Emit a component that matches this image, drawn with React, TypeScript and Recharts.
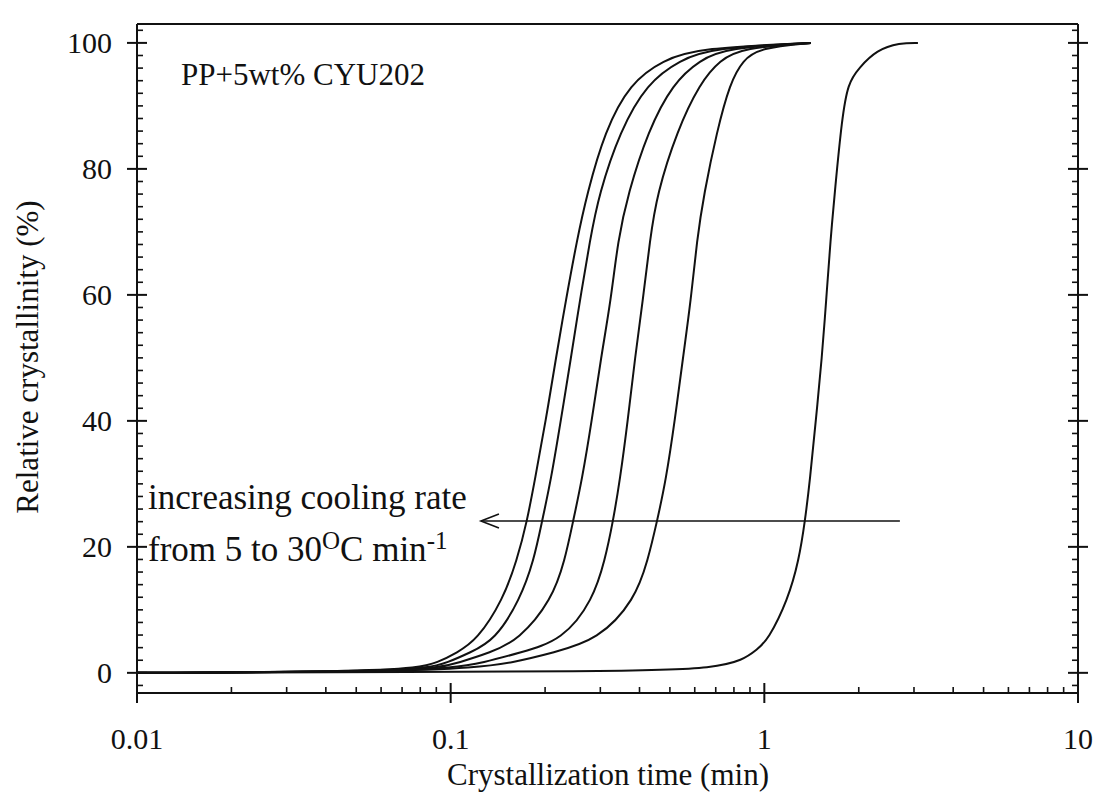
import { LineChart, Line, XAxis, YAxis, ReferenceLine } from 'recharts'

// axis ticks
const X_MAJOR = [0.01, 0.1, 1, 10]
const X_MAJOR_LABELS = ['0.01', '0.1', '1', '10']
const X_MINOR = [
  0.02, 0.03, 0.04, 0.05, 0.06, 0.07, 0.08, 0.09,
  0.2, 0.3, 0.4, 0.5, 0.6, 0.7, 0.8, 0.9,
  2, 3, 4, 5, 6, 7, 8, 9,
]
const Y_MAJOR = [0, 20, 40, 60, 80, 100]
const Y_MINOR = [
  -2, 2, 4, 6, 8, 10, 12, 14, 16, 18, 22, 24, 26, 28, 30, 32, 34, 36, 38,
  42, 44, 46, 48, 50, 52, 54, 56, 58, 62, 64, 66, 68, 70, 72, 74, 76, 78,
  82, 84, 86, 88, 90, 92, 94, 96, 98, 102,
]

// relative crystallinity levels (%) at which times were read
const LEVELS = [0, 0.2, 0.8, 1.6, 3.2, 5.2, 11.6, 17.9, 24, 30.6, 40.2, 50, 59.2, 68.7, 76, 86, 93.6, 97.3, 99.2, 100]
const LEVELS_5 = [0, 0.2, 0.8, 2, 3.7, 5.2, 11.6, 17.9, 24, 30.6, 40.2, 50, 59.2, 68.7, 76.7, 88, 93.6, 96, 98.9, 100, 100]

// crystallization time (min) per cooling rate
const T_30 = [0.01, 0.05, 0.0798, 0.0904, 0.1047, 0.1213, 0.1468, 0.1627, 0.1751, 0.1855, 0.2013, 0.2166, 0.2331, 0.2527, 0.272, 0.31, 0.3729, 0.4751, 0.6232, 1.408]
const T_25 = [0.01, 0.055, 0.0859, 0.0973, 0.1152, 0.1384, 0.1663, 0.1843, 0.1954, 0.2088, 0.2247, 0.2418, 0.2584, 0.2781, 0.297, 0.3465, 0.4225, 0.5383, 0.6858, 1.408]
const T_20 = [0.01, 0.06, 0.0925, 0.1055, 0.1335, 0.165, 0.2103, 0.2314, 0.2454, 0.2622, 0.2821, 0.3014, 0.3243, 0.3414, 0.3674, 0.4255, 0.5112, 0.6232, 0.7599, 1.408]
const T_15 = [0.01, 0.065, 0.1017, 0.1268, 0.1663, 0.228, 0.2842, 0.3104, 0.3291, 0.3465, 0.3674, 0.3868, 0.4102, 0.4318, 0.4546, 0.5265, 0.6232, 0.722, 0.8545, 1.408]
const T_10 = [0.01, 0.07, 0.1178, 0.158, 0.2119, 0.295, 0.3868, 0.4255, 0.4546, 0.4857, 0.5188, 0.5502, 0.5834, 0.6096, 0.6418, 0.7062, 0.7768, 0.8545, 0.9683, 1.408]
const T_5 = [0.01, 0.42, 0.686, 0.855, 0.947, 1.027, 1.189, 1.289, 1.347, 1.398, 1.46, 1.526, 1.575, 1.625, 1.68, 1.768, 1.847, 2.0, 2.285, 2.7, 3.088]

const zip = (ts: number[], ys: number[]) => ts.map((t, i) => ({ x: t, y: ys[i] }))

const CURVES = [
  { key: 'r30', data: zip(T_30, LEVELS) },
  { key: 'r25', data: zip(T_25, LEVELS) },
  { key: 'r20', data: zip(T_20, LEVELS) },
  { key: 'r15', data: zip(T_15, LEVELS) },
  { key: 'r10', data: zip(T_10, LEVELS) },
  { key: 'r5', data: zip(T_5, LEVELS_5) },
]

const FONT = '"Liberation Serif", "DejaVu Serif", serif'
const INK = '#111'

const isMajorX = (v: number) => X_MAJOR.includes(v)
const isMajorY = (v: number) => Y_MAJOR.includes(v)

function BottomTick({ x, y, payload }: any) {
  const major = isMajorX(payload.value)
  return (
    <g>
      <line x1={x} x2={x} y1={y - (major ? 10 : 6)} y2={y + (major ? 10 : 0)} stroke={INK} strokeWidth={major ? 2 : 1.6} />
      {major && (
        <text x={x} y={y + 45} textAnchor="middle" dominantBaseline="central" fontFamily={FONT} fontSize={30} fill={INK}>
          {X_MAJOR_LABELS[X_MAJOR.indexOf(payload.value)]}
        </text>
      )}
    </g>
  )
}

function TopTick({ x, y, payload }: any) {
  const major = isMajorX(payload.value)
  return <line x1={x} x2={x} y1={y - (major ? 10 : 0)} y2={y + (major ? 10 : 6)} stroke={INK} strokeWidth={major ? 2 : 1.6} />
}

function LeftTick({ x, y, payload }: any) {
  const major = isMajorY(payload.value)
  return (
    <g>
      <line x1={x - (major ? 10 : 0)} x2={x + (major ? 10 : 6)} y1={y} y2={y} stroke={INK} strokeWidth={major ? 2 : 1.6} />
      {major && (
        <text x={x - 25} y={y} textAnchor="end" dominantBaseline="central" fontFamily={FONT} fontSize={30} fill={INK}>
          {payload.value}
        </text>
      )}
    </g>
  )
}

function RightTick({ x, y, payload }: any) {
  const major = isMajorY(payload.value)
  return <line x1={x - (major ? 10 : 6)} x2={x + (major ? 10 : 0)} y1={y} y2={y} stroke={INK} strokeWidth={major ? 2 : 1.6} />
}

function Arrow(props: any) {
  const { x1, y1, x2, y2 } = props
  const tipX = Math.min(x1, x2)
  const endX = Math.max(x1, x2)
  const y = y1 ?? y2
  return (
    <g stroke={INK} strokeWidth={1.6} fill="none">
      <line x1={tipX} x2={endX} y1={y} y2={y} />
      <polyline points={`${tipX + 18},${y - 7} ${tipX},${y} ${tipX + 18},${y + 7}`} />
    </g>
  )
}

const AXIS_LINE = { stroke: INK, strokeWidth: 2 }
const NOTE = { position: 'absolute' as const, fontFamily: FONT, color: INK, whiteSpace: 'nowrap' as const }

export default function App() {
  return (
    <div style={{ position: 'absolute', left: 0, top: 0, width: 1096, height: 794, background: '#fff', overflow: 'hidden' }}>
      <LineChart width={1096} height={794} margin={{ top: 14, right: 8, bottom: 41, left: 77 }}>
        <XAxis
          xAxisId="b"
          dataKey="x"
          type="number"
          scale="log"
          domain={[0.01, 10]}
          allowDataOverflow
          ticks={[...X_MAJOR, ...X_MINOR]}
          interval={0}
          tick={<BottomTick />}
          tickLine={false}
          tickSize={0}
          tickMargin={0}
          axisLine={AXIS_LINE}
          height={60}
        />
        <XAxis
          xAxisId="t"
          orientation="top"
          type="number"
          scale="log"
          domain={[0.01, 10]}
          allowDataOverflow
          ticks={[...X_MAJOR, ...X_MINOR]}
          interval={0}
          tick={<TopTick />}
          tickLine={false}
          tickSize={0}
          tickMargin={0}
          axisLine={AXIS_LINE}
          height={10}
        />
        <YAxis
          yAxisId="l"
          type="number"
          domain={[-3.2, 103]}
          allowDataOverflow
          ticks={[...Y_MAJOR, ...Y_MINOR]}
          interval={0}
          tick={<LeftTick />}
          tickLine={false}
          tickSize={0}
          tickMargin={0}
          axisLine={AXIS_LINE}
          width={60}
        />
        <YAxis
          yAxisId="r"
          orientation="right"
          type="number"
          domain={[-3.2, 103]}
          allowDataOverflow
          ticks={[...Y_MAJOR, ...Y_MINOR]}
          interval={0}
          tick={<RightTick />}
          tickLine={false}
          tickSize={0}
          tickMargin={0}
          axisLine={AXIS_LINE}
          width={10}
        />
        {CURVES.map((c) => (
          <Line
            key={c.key}
            xAxisId="b"
            yAxisId="l"
            data={c.data}
            dataKey="y"
            type="basis"
            stroke={INK}
            strokeWidth={2}
            dot={false}
            activeDot={false}
            isAnimationActive={false}
          />
        ))}
        <ReferenceLine
          xAxisId="b"
          yAxisId="l"
          segment={[{ x: 2.705, y: 24.1 }, { x: 0.1249, y: 24.1 }]}
          shape={<Arrow />}
        />
      </LineChart>

      <div style={{ ...NOTE, left: 181, top: 59, fontSize: 31, lineHeight: '31px' }}>PP+5wt% CYU202</div>
      <div style={{ ...NOTE, left: 148, top: 480, fontSize: 35, lineHeight: '35px' }}>increasing cooling rate</div>
      <div style={{ ...NOTE, left: 148, top: 523, fontSize: 35, lineHeight: '35px' }}>
        from 5 to 30<sup style={{ fontSize: 25, verticalAlign: 12 }}>O</sup>C min<sup style={{ fontSize: 25, verticalAlign: 12 }}>-1</sup>
      </div>
      <div style={{ ...NOTE, left: 0, top: 759, width: 1216, textAlign: 'center', fontSize: 31, lineHeight: '31px' }}>
        Crystallization time (min)
      </div>
      <div
        style={{
          ...NOTE,
          left: 27,
          top: 357,
          transform: 'translate(-50%, -50%) rotate(-90deg)',
          fontSize: 31,
          lineHeight: '31px',
        }}
      >
        Relative crystallinity (%)
      </div>
    </div>
  )
}
